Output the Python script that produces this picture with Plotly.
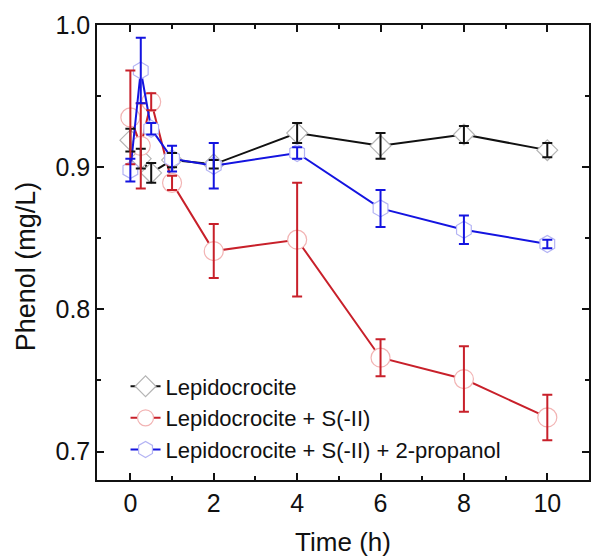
import plotly.graph_objects as go

time = [0, 0.25, 0.5, 1, 2, 4, 6, 8, 10]

lepido = [0.919, 0.906, 0.896, 0.905, 0.902, 0.924, 0.915, 0.923, 0.912]
lepido_err = [0.008, 0.007, 0.007, 0.005, 0.003, 0.007, 0.009, 0.006, 0.005]

lepido_s = [0.935, 0.915, 0.946, 0.889, 0.841, 0.849, 0.766, 0.751, 0.724]
lepido_s_err = [0.033, 0.030, 0.006, 0.005, 0.019, 0.040, 0.013, 0.023, 0.016]

lepido_s_p = [0.898, 0.968, 0.927, 0.906, 0.901, 0.910, 0.871, 0.856, 0.846]
lepido_s_p_err = [0.008, 0.023, 0.004, 0.009, 0.016, 0.004, 0.013, 0.010, 0.003]

names = ["Lepidocrocite", "Lepidocrocite + S(-II)", "Lepidocrocite + S(-II) + 2-propanol"]

series = [
    (lepido, lepido_err, names[0], "#111111", "#b5b5b5", "diamond", 16),
    (lepido_s, lepido_s_err, names[1], "#c8202a", "#f2b4b4", "circle", 19),
    (lepido_s_p, lepido_s_p_err, names[2], "#1414e0", "#b4b4f4", "hexagon", 17),
]

fig = go.Figure()
for y, e, name, col, mcol, sym, sz in series:
    fig.add_trace(go.Scatter(
        x=time, y=y, name=name, mode="lines+markers",
        line=dict(color=col, width=2),
        marker=dict(symbol=sym, size=sz, color="white",
                    line=dict(color=mcol, width=1.2)),
    ))
# error bars drawn above the markers
for y, e, name, col, mcol, sym, sz in series:
    fig.add_trace(go.Scatter(
        x=time, y=y, mode="markers", showlegend=False, hoverinfo="skip",
        marker=dict(size=1, opacity=0),
        error_y=dict(type="data", array=e, visible=True, color=col,
                     thickness=2, width=5),
    ))

font = "Liberation Sans, Arial, sans-serif"
fig.update_layout(
    width=592, height=557,
    margin=dict(l=97, r=1, t=25, b=77),
    plot_bgcolor="white", paper_bgcolor="white",
    font=dict(family=font, size=24, color="#111111"),
    showlegend=True,
    legend=dict(x=0.058, y=0.021, xanchor="left", yanchor="bottom",
                bgcolor="rgba(0,0,0,0)", font=dict(size=22),
                tracegroupgap=0, itemwidth=30),
    annotations=[dict(
        text="Phenol (mg/L)", textangle=-90, showarrow=False,
        xref="paper", yref="paper", x=-0.144, y=0.47,
        xanchor="center", yanchor="middle",
        font=dict(size=27, family=font, color="#111111"),
    )],
)
fig.update_xaxes(
    range=[-0.8, 11], tickvals=[0, 2, 4, 6, 8, 10],
    ticks="inside", ticklen=7, tickwidth=1.5, tickcolor="#111111",
    minor=dict(tickvals=[1, 3, 5, 7, 9], ticks="inside", ticklen=4, tickwidth=1.5, tickcolor="#111111"),
    showline=True, linecolor="#111111", linewidth=1.5, mirror="ticks",
    showgrid=False, zeroline=False,
    title=dict(text="Time (h)", font=dict(size=26), standoff=19),
    tickfont=dict(size=25),
)
fig.update_yaxes(
    range=[0.68, 1.0], tickvals=[0.7, 0.8, 0.9, 1.0], ticktext=["0.7", "0.8", "0.9", "1.0"],
    ticks="inside", ticklen=7, tickwidth=1.5, tickcolor="#111111",
    minor=dict(tickvals=[0.75, 0.85, 0.95], ticks="inside", ticklen=4, tickwidth=1.5, tickcolor="#111111"),
    showline=True, linecolor="#111111", linewidth=1.5, mirror="ticks",
    showgrid=False, zeroline=False,
    tickfont=dict(size=25),
)

fig.write_html("out.html")
